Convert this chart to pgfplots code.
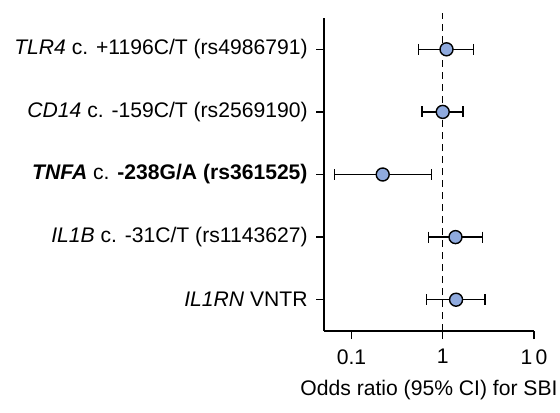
\documentclass[border=0pt]{standalone}
\usepackage{fontspec}
\setmainfont{Liberation Sans}
\usepackage{pgfplots}
\pgfplotsset{compat=1.18}
\definecolor{ptfill}{RGB}{143,170,222}
\begin{document}
\fontsize{10.6}{12.5}\selectfont
\begin{tikzpicture}
\begin{axis}[
  scale only axis,
  width=105bp, height=156.5bp,
  xmode=log,
  xmin=0.05, xmax=10,
  ymin=0.5, ymax=5.5,
  axis x line*=bottom,
  axis y line*=left,
  axis line style={line width=0.9bp, -},
  clip=false,
  tick align=outside,
  xtick pos=bottom,
  ytick pos=left,
  major tick length=4bp,
  minor tick length=2.5bp,
  tick style={black, line width=0.7bp},
  xtick={0.1,1,10},
  xticklabels={0.1,1,1\hspace{0.15em}0},
  log basis x=10,
  ytick={1,2,3,4,5},
  yticklabels={
    \textit{IL1RN} VNTR,
    \textit{IL1B} c. -31C/T (rs1143627),
    \textbf{\textit{TNFA}} c. \textbf{-238G/A (rs361525)},
    \textit{CD14} c. -159C/T (rs2569190),
    \textit{TLR4} c. +1196C/T (rs4986791)},
  yticklabel style={font=\fontsize{10.6}{12.5}\selectfont, xshift=-0.5bp},
  xticklabel style={font=\fontsize{10.6}{12.5}\selectfont, yshift=-1.5bp},
  xlabel={Odds ratio (95\% CI) for SBI},
  xlabel style={font=\fontsize{10.6}{12.5}\selectfont, at={(rel axis cs:0.5,0)}, anchor=base, yshift=-32bp},
]
% reference line at OR = 1
\addplot[black, line width=0.75bp, dash pattern=on 3.5bp off 2.5bp] coordinates {(1,0.5) (1,5.58)};
% confidence intervals
\addplot[black, line width=0.7bp, mark=|, mark size=2.75bp, mark options={line width=0.7bp}] coordinates {(0.545,5) (2.19,5)};
\addplot[black, line width=0.7bp, mark=|, mark size=2.75bp, mark options={line width=0.7bp}] coordinates {(0.59,4) (1.67,4)};
\addplot[black, line width=0.7bp, mark=|, mark size=2.75bp, mark options={line width=0.7bp}] coordinates {(0.065,3) (0.75,3)};
\addplot[black, line width=0.7bp, mark=|, mark size=2.75bp, mark options={line width=0.7bp}] coordinates {(0.70,2) (2.73,2)};
\addplot[black, line width=0.7bp, mark=|, mark size=2.75bp, mark options={line width=0.7bp}] coordinates {(0.66,1) (2.92,1)};
% point estimates
\addplot[only marks, mark=*, mark size=3.25bp, mark options={fill=ptfill, draw=black, line width=0.7bp}] coordinates {
  (1.10,5) (1.00,4) (0.22,3) (1.38,2) (1.40,1)};
\end{axis}
\pgfresetboundingbox
\path[use as bounding box] (-162bp,-41bp) rectangle (118bp,165.5bp);
\end{tikzpicture}
\end{document}
